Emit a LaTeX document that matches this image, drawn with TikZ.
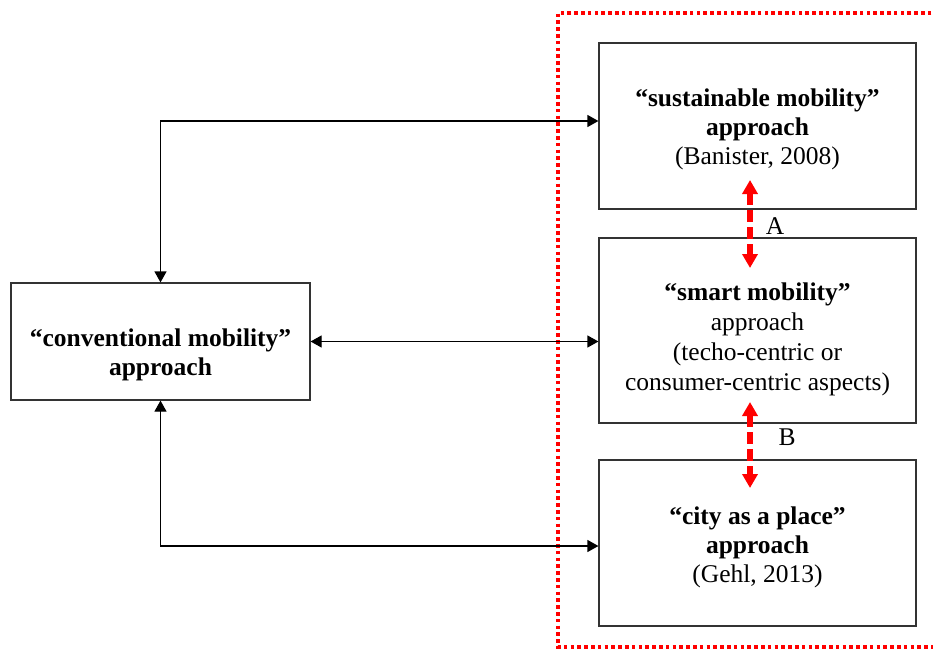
\documentclass[tikz,border=0pt]{standalone}
\usepackage{fontspec}
\setmainfont{Liberation Serif}
\usetikzlibrary{arrows.meta,calc}
\begin{document}
\begin{tikzpicture}[x=1pt,y=-1pt,
  box/.style={draw=black!80,line width=1.2pt,inner sep=0pt},
  txt/.style={align=center,font=\fontsize{25.5}{29}\selectfont,inner sep=0pt},
  conn/.style={line width=1.2pt,{Triangle[length=11pt,width=12pt]}-{Triangle[length=11pt,width=12pt]}},
  redarr/.style={red,line width=5.5pt,dash pattern=on 12pt off 5pt,{Triangle[length=14pt,width=15pt]}-{Triangle[length=14pt,width=15pt]}},
  lbl/.style={font=\fontsize{25.5}{29}\selectfont,inner sep=0pt}]
\useasboundingbox (0,0) rectangle (933,650);
\clip (0,0) rectangle (933,650);
\fill[white] (0,0) rectangle (933,650);
\draw[red,line width=4pt,dash pattern=on 3.6pt off 3.2pt] (945,13) -- (558,13) -- (558,647) -- (945,647);
\node[box,minimum width=299pt,minimum height=117pt] (conv) at (160.5,341.5) {};
\node[txt] (convt) at (160.5,354.5) {\textbf{“conventional mobility”}\\\textbf{approach}};
\node[box,minimum width=317pt,minimum height=166pt] (sust) at (757.5,126) {};
\node[txt] (sustt) at (757.5,129) {\textbf{“sustainable mobility”}\\\textbf{approach}\\(Banister, 2008)};
\node[box,minimum width=317pt,minimum height=185pt] (smart) at (757.5,330.5) {};
\node[txt,font=\fontsize{25.5}{30}\selectfont] (smartt) at (757.5,339) {\textbf{“smart mobility”}\\approach\\(techo-centric or\\consumer-centric aspects)};
\node[box,minimum width=317pt,minimum height=166pt] (city) at (757.5,543) {};
\node[txt] (cityt) at (757.5,547.5) {\textbf{“city as a place”}\\\textbf{approach}\\(Gehl, 2013)};
\draw[conn] ([yshift=5pt]sust.west) -| (conv.north);
\draw[conn] ([yshift=-3pt]city.west) -| (conv.south);
\draw[conn] (conv.east) -- (conv.east -| smart.west);
\coordinate (a1) at (750,180);
\coordinate (a2) at (750,268);
\coordinate (b1) at (750,402);
\coordinate (b2) at (750,488);
\draw[redarr] (a1) -- (a2);
\draw[redarr] (b1) -- (b2);
\node[lbl] (la) at (775,226) {A};
\node[lbl] (lb) at (787,437) {B};
\end{tikzpicture}
\end{document}
